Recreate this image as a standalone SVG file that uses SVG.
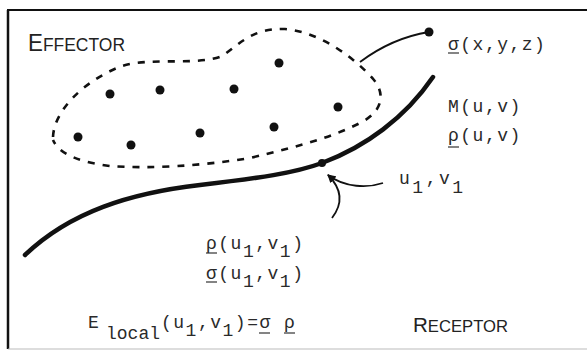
<svg xmlns="http://www.w3.org/2000/svg" width="587" height="351" viewBox="0 0 587 351">
<defs>
<style>
.tw{font-family:"Liberation Mono","DejaVu Sans Mono",monospace;font-size:18px;letter-spacing:1.5px;fill:#2a2a2a}
.sc{font-family:"Liberation Sans","DejaVu Sans",sans-serif;fill:#222}
.ul{stroke:#333;stroke-width:1.2}
.dot{fill:#111}
.thin{fill:none;stroke:#111;stroke-width:1.8}
</style>
<marker id="ah" viewBox="0 0 10 10" refX="9" refY="5" markerWidth="8" markerHeight="8" markerUnits="userSpaceOnUse" orient="auto">
<path d="M0,0 L10,5 L0,10 z" fill="#111"/>
</marker>
</defs>
<rect width="587" height="351" fill="#fff"/>
<g id="frame" fill="none">
<line x1="8" y1="10" x2="8" y2="349" stroke="#111" stroke-width="2.5"/>
<line x1="7" y1="10" x2="587" y2="10" stroke="#111" stroke-width="2"/>
<line x1="8" y1="349" x2="587" y2="349" stroke="#bbb" stroke-width="1"/>
</g>
<g id="effector">
<text class="sc" x="28" y="51" textLength="97" lengthAdjust="spacingAndGlyphs"><tspan font-size="23">E</tspan><tspan font-size="18">FFECTOR</tspan></text>
<path d="M53,137 C54,110 85,80 122,66 C150,57 198,66 222,56 C240,44 252,28 285,29 C320,32 355,58 374,80 C386,95 382,112 360,123 C330,138 300,146 250,158 C200,166 150,169 110,166 C85,163 60,156 53,140" fill="none" stroke="#111" stroke-width="2.6" stroke-dasharray="7 8"/>
<circle class="dot" cx="110" cy="94" r="4.5"/>
<circle class="dot" cx="160" cy="90" r="4.5"/>
<circle class="dot" cx="234" cy="89" r="4.5"/>
<circle class="dot" cx="279" cy="63" r="4.5"/>
<circle class="dot" cx="78" cy="137" r="4.5"/>
<circle class="dot" cx="131" cy="145" r="4.5"/>
<circle class="dot" cx="200" cy="133" r="4.5"/>
<circle class="dot" cx="274" cy="127" r="4.5"/>
<circle class="dot" cx="338" cy="107" r="4.5"/>
</g>
<g id="receptor">
<path d="M25,255 C70,212 130,193 200,185 C260,178 295,173 322,163 C365,147 405,118 433,77" fill="none" stroke="#111" stroke-width="4.5" stroke-linecap="round"/>
<circle class="dot" cx="322" cy="163" r="4"/>
<text class="sc" x="413" y="332" textLength="95" lengthAdjust="spacingAndGlyphs"><tspan font-size="21">R</tspan><tspan font-size="17">ECEPTOR</tspan></text>
</g>
<g id="sigma-point">
<circle class="dot" cx="429" cy="32" r="4.5"/>
<text class="tw" x="448" y="50">σ(x,y,z)</text>
<line class="ul" x1="448" y1="53" x2="459" y2="53"/>
</g>
<g id="surface-labels">
<text class="tw" x="448" y="112">M(u,v)</text>
<text class="tw" x="448" y="141">ρ(u,v)</text>
<line class="ul" x1="448" y1="147" x2="459" y2="147"/>
</g>
<g id="point-label">
<text class="tw" x="399" y="184" style="letter-spacing:2.5px">u<tspan dy="9">1</tspan><tspan dy="-9">,v</tspan><tspan dy="9">1</tspan></text>
</g>
<g id="local-values">
<text class="tw" x="206" y="249">ρ(u<tspan dy="8">1</tspan><tspan dy="-8">,v</tspan><tspan dy="8">1</tspan><tspan dy="-8">)</tspan></text>
<line class="ul" x1="206" y1="253" x2="217" y2="253"/>
<text class="tw" x="206" y="279">σ(u<tspan dy="8">1</tspan><tspan dy="-8">,v</tspan><tspan dy="8">1</tspan><tspan dy="-8">)</tspan></text>
<line class="ul" x1="206" y1="282" x2="217" y2="282"/>
</g>
<g id="energy">
<text class="tw" x="88" y="328">E</text>
<text class="tw" x="106" y="339" style="letter-spacing:0">local</text>
<text class="tw" x="161" y="328">(u<tspan dy="8">1</tspan><tspan dy="-8">,v</tspan><tspan dy="8">1</tspan><tspan dy="-8">)=σ ρ</tspan></text>
<line class="ul" x1="259" y1="333" x2="270" y2="333"/>
<line class="ul" x1="284" y1="333" x2="295" y2="333"/>
</g>
<g id="connectors">
<path class="thin" d="M360,62 Q392,38 429,32"/>
<path class="thin" d="M383,183 C368,188 345,188 328,175" marker-end="url(#ah)"/>
<path class="thin" d="M332,218 C342,205 343,190 328,175" marker-end="url(#ah)"/>
</g>
</svg>
